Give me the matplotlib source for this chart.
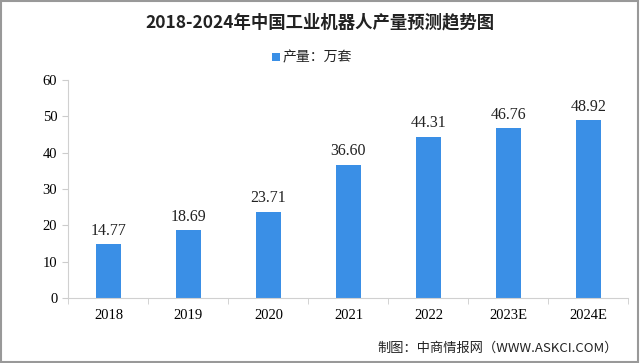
import matplotlib
matplotlib.use("Agg")
import matplotlib.pyplot as plt
from matplotlib.patches import Rectangle

plt.rcParams['font.family'] = ['Noto Sans CJK SC', 'DejaVu Sans']

categories = ["2018", "2019", "2020", "2021", "2022", "2023E", "2024E"]
values = [14.77, 18.69, 23.71, 36.60, 44.31, 46.76, 48.92]
labels = ["14.77", "18.69", "23.71", "36.60", "44.31", "46.76", "48.92"]
yticks = [0, 10, 20, 30, 40, 50, 60]

color = "#3a8fe6"
fig = plt.figure(figsize=(6.4, 3.63), dpi=100)
fig.patch.set_facecolor("white")
ax = fig.add_axes([0.107, 0.179, 0.875, 0.601])
x = range(len(categories))
ax.bar(x, values, width=0.31, color=color)
for i, (v, l) in enumerate(zip(values, labels)):
    ax.text(i, v + 1.5, l, ha="center", va="bottom", fontsize=11.5, color="#222222",
            family=["Liberation Serif", "DejaVu Serif"])
ax.set_xlim(-0.5, len(categories) - 0.5)
ax.set_ylim(0, 60)
ax.set_yticks(yticks)
ax.set_xticks(list(x))
ax.set_xticklabels(categories, family=["Liberation Serif", "DejaVu Serif"], fontsize=10.5)
ax.set_yticklabels([str(t) for t in yticks], family=["Liberation Serif", "DejaVu Serif"], fontsize=10.5)
ax.set_xticks([i + 0.5 for i in range(-1, len(categories))], minor=True)
ax.tick_params(axis="x", which="major", length=0, pad=8)
ax.tick_params(axis="x", which="minor", length=4, color="#cccccc")
ax.tick_params(axis="y", length=4, color="#cccccc", pad=4)
for s in ["top", "right"]:
    ax.spines[s].set_visible(False)
ax.spines["left"].set_color("#d0d0d0")
ax.spines["bottom"].set_color("#d0d0d0")

fig.text(0.5, 0.937, "2018-2024年中国工业机器人产量预测趋势图", ha="center", va="center",
         fontsize=12.5, fontweight="bold", color="#222222")
fig.patches.append(Rectangle((0.425, 0.832), 0.012, 0.022, transform=fig.transFigure,
                             facecolor=color, edgecolor="none"))
fig.text(0.442, 0.843, "产量：万套", ha="left", va="center", fontsize=10, color="#222222")
fig.text(0.965, 0.04, "制图：中商情报网（WWW.ASKCI.COM）", ha="right", va="center",
         fontsize=9.5, color="#222222")
fig.patches.append(Rectangle((0.002, 0.003), 0.995, 0.994, transform=fig.transFigure,
                             facecolor="none", edgecolor="#999999", linewidth=1.5))
fig.savefig("out.png", dpi=100)
